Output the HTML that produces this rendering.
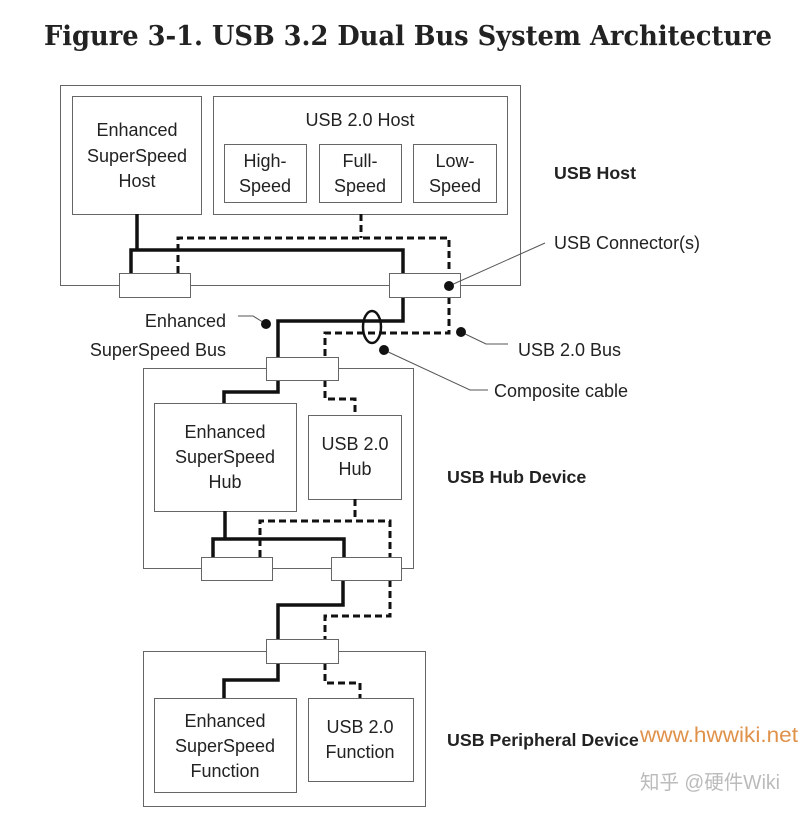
<!DOCTYPE html>
<html><head><meta charset="utf-8"><style>
html,body{margin:0;padding:0;background:#fff;}
svg{display:block;}
text{font-family:"Liberation Sans","Noto Sans CJK SC",sans-serif;fill:#222;}
</style></head><body>
<svg width="800" height="816" viewBox="0 0 800 816" xmlns="http://www.w3.org/2000/svg">
<text x="44" y="45" textLength="728" lengthAdjust="spacingAndGlyphs" style="font-family:'DejaVu Serif','Liberation Serif',serif;font-weight:bold;font-size:27px" fill="#111">Figure 3-1.  USB 3.2 Dual Bus System Architecture</text>
<g fill="none" stroke="#666" stroke-width="1">
<rect x="60.5" y="85.5" width="460" height="200"/>
<rect x="72.5" y="96.5" width="129" height="118"/>
<rect x="213.5" y="96.5" width="294" height="118"/>
<rect x="224.5" y="144.5" width="82" height="58"/>
<rect x="319.5" y="144.5" width="82" height="58"/>
<rect x="413.5" y="144.5" width="83" height="58"/>
<rect x="143.5" y="368.5" width="270" height="200"/>
<rect x="154.5" y="403.5" width="142" height="108"/>
<rect x="308.5" y="415.5" width="93" height="84"/>
<rect x="143.5" y="651.5" width="282" height="155"/>
<rect x="154.5" y="698.5" width="142" height="94"/>
<rect x="308.5" y="698.5" width="105" height="83"/>
</g>
<g fill="none" stroke="#111" stroke-width="3.5">
<path d="M137 214V250M131 273V250H403V273"/>
<path d="M403 297V321H278V357"/>
<path d="M278 380V392H224V403"/>
<path d="M225 511V539M213 557V539H344V557"/>
<path d="M343 580V605H278V639"/>
<path d="M278 663V680H224V698"/>
</g>
<g fill="none" stroke="#111" stroke-width="3" stroke-dasharray="7,4">
<path d="M361 214V238M178 273V238H449V273"/>
<path d="M449 297V333H325V357"/>
<path d="M325 380V399H355V415"/>
<path d="M355 499V521M260 557V521H390V557"/>
<path d="M390 580V616H325V639"/>
<path d="M325 663V683H360V698"/>
</g>
<g fill="#fff" stroke="#666" stroke-width="1">
<rect x="119.5" y="273.5" width="71" height="24"/>
<rect x="389.5" y="273.5" width="71" height="24"/>
<rect x="266.5" y="357.5" width="72" height="23"/>
<rect x="201.5" y="557.5" width="71" height="23"/>
<rect x="331.5" y="557.5" width="70" height="23"/>
<rect x="266.5" y="639.5" width="72" height="24"/>
</g>
<g fill="none" stroke="#555" stroke-width="1">
<path d="M449 286L545 243"/>
<path d="M266 324L253 316H238"/>
<path d="M461 332L486 344H508"/>
<path d="M384 350L470 390H488"/>
</g>
<ellipse cx="372" cy="327" rx="9" ry="16" fill="none" stroke="#111" stroke-width="2.5"/>
<g fill="#111"><circle cx="449" cy="286" r="5"/><circle cx="266" cy="324" r="5"/><circle cx="461" cy="332" r="5"/><circle cx="384" cy="350" r="5"/></g>
<g font-size="18" text-anchor="middle">
<text x="137" y="136">Enhanced</text><text x="137" y="162">SuperSpeed</text><text x="137" y="187">Host</text>
<text x="360" y="126">USB 2.0 Host</text>
<text x="265" y="167">High-</text><text x="265" y="192">Speed</text>
<text x="360" y="167">Full-</text><text x="360" y="192">Speed</text>
<text x="455" y="167">Low-</text><text x="455" y="192">Speed</text>
<text x="225" y="438">Enhanced</text><text x="225" y="463">SuperSpeed</text><text x="225" y="488">Hub</text>
<text x="355" y="450">USB 2.0</text><text x="355" y="475">Hub</text>
<text x="225" y="727">Enhanced</text><text x="225" y="752">SuperSpeed</text><text x="225" y="777">Function</text>
<text x="360" y="733">USB 2.0</text><text x="360" y="758">Function</text>
</g>
<g font-size="18">
<text x="554" y="249">USB Connector(s)</text>
<text x="226" y="327" text-anchor="end">Enhanced</text>
<text x="226" y="356" text-anchor="end">SuperSpeed Bus</text>
<text x="518" y="356">USB 2.0 Bus</text>
<text x="494" y="397">Composite cable</text>
</g>
<g font-size="17.8" font-weight="bold" fill="#111">
<text x="554" y="179">USB Host</text>
<text x="447" y="483">USB Hub Device</text>
<text x="447" y="746">USB Peripheral Device</text>
</g>
<text x="640" y="742" font-size="21" textLength="158" lengthAdjust="spacingAndGlyphs" style="fill:#e0914a">www.hwwiki.net</text>
<text x="640" y="789" font-size="20" textLength="140" lengthAdjust="spacingAndGlyphs" style="fill:#bbb">知乎 @硬件Wiki</text>
</svg>
</body></html>
